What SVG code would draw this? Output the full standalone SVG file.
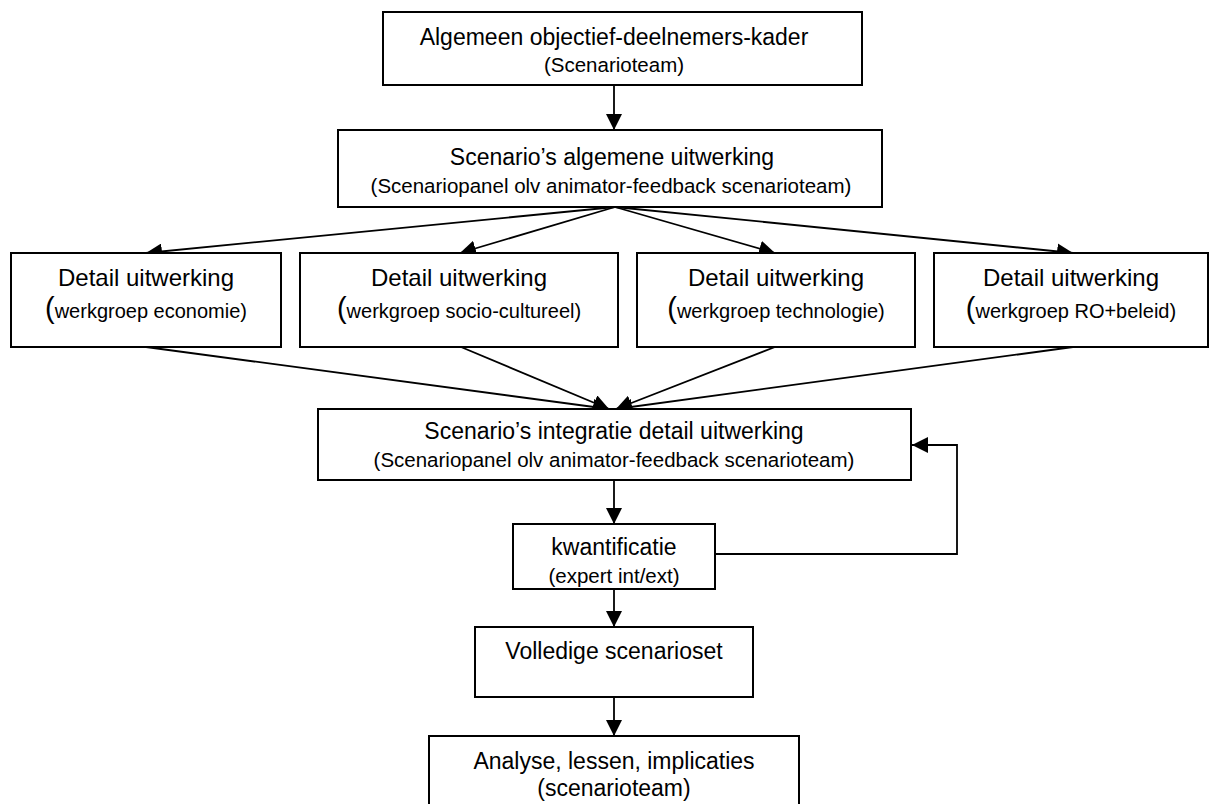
<svg xmlns="http://www.w3.org/2000/svg" width="1218" height="804" viewBox="0 0 1218 804">
  <defs>
    <marker id="arrow" markerUnits="userSpaceOnUse" markerWidth="17" markerHeight="16" refX="16" refY="8" orient="auto">
      <path d="M0,0 L16,8 L0,16 Z" fill="#000"/>
    </marker>
    <style>
      .box { fill: #fff; stroke: #000; stroke-width: 2; }
      .main { font-family: "Liberation Sans", Arial, sans-serif; font-size: 23px; text-anchor: middle; fill: #000; }
      .sub { font-family: "Liberation Sans", Arial, sans-serif; font-size: 20.5px; text-anchor: middle; fill: #000; }
      .detail { font-family: "Liberation Sans", Arial, sans-serif; font-size: 24px; text-anchor: middle; fill: #000; }
      .group { font-family: "Liberation Sans", Arial, sans-serif; font-size: 20px; text-anchor: middle; fill: #000; }
      .big { font-size: 29px; }
      .edge { fill: none; stroke: #000; stroke-width: 1.8; marker-end: url(#arrow); }
    </style>
  </defs>
  <rect width="1218" height="804" fill="#fff"/>

  <!-- connectors -->
  <g id="connectors">
    <line class="edge" x1="614" y1="86" x2="614" y2="130"/>
    <line class="edge" x1="615" y1="207" x2="146" y2="253"/>
    <line class="edge" x1="615" y1="207" x2="460" y2="253"/>
    <line class="edge" x1="615" y1="207" x2="775" y2="253"/>
    <line class="edge" x1="615" y1="207" x2="1073" y2="253"/>
    <line class="edge" x1="146" y1="347" x2="609" y2="409"/>
    <line class="edge" x1="461" y1="347" x2="609" y2="409"/>
    <line class="edge" x1="775" y1="347" x2="616" y2="409"/>
    <line class="edge" x1="1073" y1="347" x2="616" y2="409"/>
    <line class="edge" x1="614" y1="480" x2="614" y2="524"/>
    <polyline class="edge" points="715,554 957,554 957,445 912,445"/>
    <line class="edge" x1="614" y1="589" x2="614" y2="627"/>
    <line class="edge" x1="614" y1="697" x2="614" y2="736"/>
  </g>

  <g id="kader">
    <rect class="box" x="383" y="12" width="479" height="73"/>
    <text class="main" x="614" y="45">Algemeen objectief-deelnemers-kader</text>
    <text class="sub" x="614" y="72" font-size="21">(Scenarioteam)</text>
  </g>

  <g id="algemene-uitwerking">
    <rect class="box" x="338" y="130" width="544" height="77"/>
    <text class="main" x="612" y="165">Scenario’s algemene uitwerking</text>
    <text class="sub" x="611" y="193">(Scenariopanel olv animator-feedback scenarioteam)</text>
  </g>

  <g id="detail-economie">
    <rect class="box" x="11" y="253" width="270" height="94"/>
    <text class="detail" x="146" y="286">Detail uitwerking</text>
    <text class="group" x="146" y="318"><tspan class="big">(</tspan>werkgroep economie)</text>
  </g>

  <g id="detail-socio">
    <rect class="box" x="300" y="253" width="318" height="94"/>
    <text class="detail" x="459" y="286">Detail uitwerking</text>
    <text class="group" x="459" y="318"><tspan class="big">(</tspan>werkgroep socio-cultureel)</text>
  </g>

  <g id="detail-technologie">
    <rect class="box" x="637" y="253" width="278" height="94"/>
    <text class="detail" x="776" y="286">Detail uitwerking</text>
    <text class="group" x="776" y="318"><tspan class="big">(</tspan>werkgroep technologie)</text>
  </g>

  <g id="detail-ro">
    <rect class="box" x="934" y="253" width="274" height="94"/>
    <text class="detail" x="1071" y="286">Detail uitwerking</text>
    <text class="group" x="1071" y="318"><tspan class="big">(</tspan>werkgroep RO+beleid)</text>
  </g>

  <g id="integratie">
    <rect class="box" x="318" y="409" width="593" height="71"/>
    <text class="main" x="614" y="439">Scenario’s integratie detail uitwerking</text>
    <text class="sub" x="614" y="467">(Scenariopanel olv animator-feedback scenarioteam)</text>
  </g>

  <g id="kwantificatie">
    <rect class="box" x="513" y="524" width="202" height="65"/>
    <text class="main" x="614" y="555">kwantificatie</text>
    <text class="sub" x="614" y="583" font-size="19">(expert int/ext)</text>
  </g>

  <g id="scenarioset">
    <rect class="box" x="475" y="627" width="278" height="70"/>
    <text class="main" x="614" y="659">Volledige scenarioset</text>
  </g>

  <g id="analyse">
    <rect class="box" x="429" y="736" width="370" height="80"/>
    <text class="main" x="614" y="769">Analyse, lessen, implicaties</text>
    <text class="main" x="614" y="796">(scenarioteam)</text>
  </g>
</svg>
